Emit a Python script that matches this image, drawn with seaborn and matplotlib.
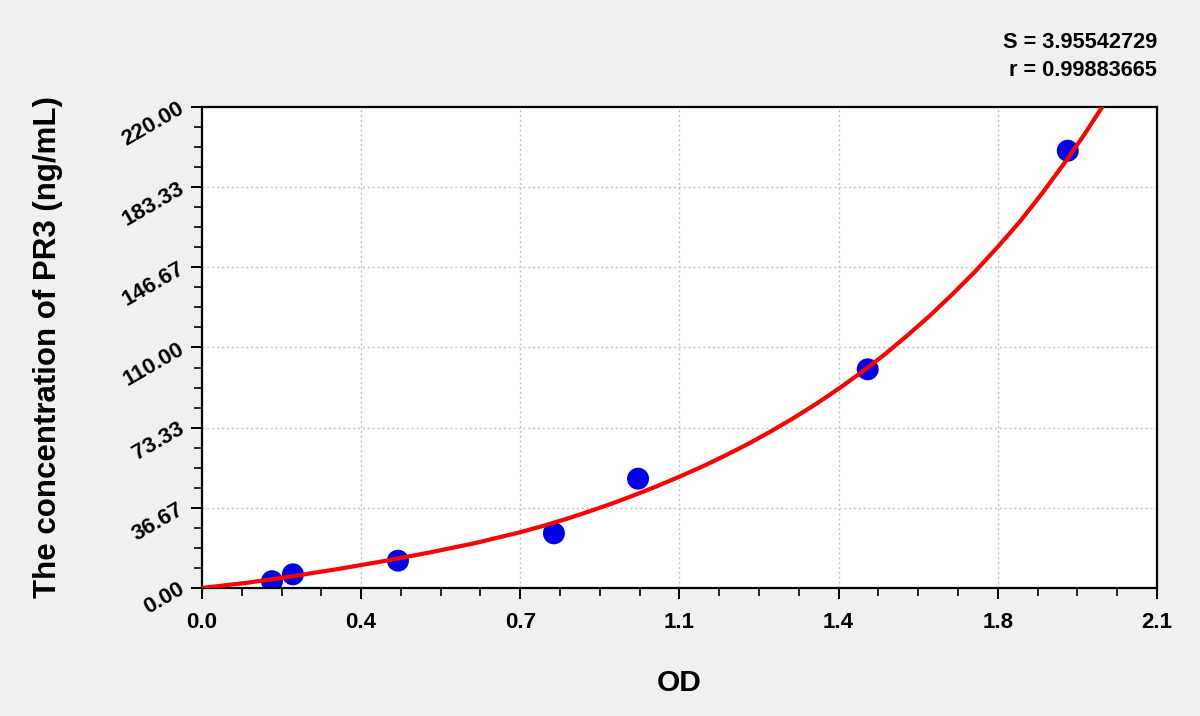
import matplotlib.pyplot as plt
import numpy as np
import pandas as pd
import seaborn as sns

# standard points (OD vs concentration)
od_points = [0.154, 0.200, 0.431, 0.774, 0.959, 1.464, 1.904]
conc_points = [3.12, 6.25, 12.5, 25.0, 50.0, 100.0, 200.0]

# fitted curve
curve_od = [0.0, 0.1, 0.2, 0.3, 0.4, 0.5, 0.6, 0.7, 0.75, 0.8, 0.85, 0.9,
            0.95, 1.0, 1.05, 1.1, 1.15, 1.2, 1.25, 1.3, 1.35, 1.4, 1.45,
            1.5, 1.55, 1.6, 1.65, 1.7, 1.75, 1.8, 1.85, 1.9, 1.94, 1.98]
curve_conc = [0.0, 2.4, 5.4, 8.7, 12.3, 16.2, 20.5, 25.5, 28.4, 31.5, 34.9,
              38.5, 42.4, 46.5, 50.9, 55.5, 60.5, 65.8, 71.5, 77.6, 84.1,
              91.1, 98.6, 106.6, 115.3, 124.4, 134.3, 144.7, 156.0, 167.9,
              181.2, 195.3, 207.3, 220.1]

x_tick_labels = ["0.0", "0.4", "0.7", "1.1", "1.4", "1.8", "2.1"]
y_tick_labels = ["0.00", "36.67", "73.33", "110.00", "146.67", "183.33", "220.00"]

stats_lines = ["S = 3.95542729", "r = 0.99883665"]

sns.set_theme(style="ticks")
plt.rcParams.update(
    {
        "font.family": ["Liberation Sans", "DejaVu Sans"],
        "font.weight": "bold",
        "text.color": "black",
        "axes.labelcolor": "black",
        "xtick.color": "black",
        "ytick.color": "black",
        "axes.edgecolor": "black",
        "axes.linewidth": 1.6,
        "xtick.major.size": 8,
        "ytick.major.size": 8,
        "xtick.minor.size": 6,
        "ytick.minor.size": 6,
        "xtick.major.width": 1.4,
        "ytick.major.width": 1.4,
        "xtick.minor.width": 1.2,
        "ytick.minor.width": 1.2,
    }
)

pts = pd.DataFrame({"od": od_points, "conc": conc_points})
curve = pd.DataFrame({"od": curve_od, "conc": curve_conc})

fig = plt.figure(figsize=(12, 7.16), dpi=100, facecolor="#f0f0f0")
ax = fig.add_axes([0.1683, 0.1788, 0.7958, 0.6718])
ax.set_facecolor("white")

sns.scatterplot(data=pts, x="od", y="conc", color="#0000e6", s=250,
                edgecolor="none", ax=ax, zorder=2)
sns.lineplot(data=curve, x="od", y="conc", color="#ff0000", linewidth=3,
             ax=ax, zorder=3)

ax.set_xlim(0, 2.1)
ax.set_ylim(0, 220)

xt = np.linspace(0, 2.1, len(x_tick_labels))
yt = np.linspace(0, 220, len(y_tick_labels))
ax.set_xticks(xt)
ax.set_xticklabels(x_tick_labels, fontsize=16, fontweight="bold")
ax.set_yticks(yt)
ax.set_yticklabels(y_tick_labels, fontsize=16, fontweight="bold",
                   rotation=30, ha="right", va="center", rotation_mode="anchor")
ax.set_xticks(np.linspace(0, 2.1, 25), minor=True)
ax.set_yticks(np.linspace(0, 220, 25), minor=True)
ax.tick_params(axis="both", which="both", direction="out",
               top=False, right=False)
ax.tick_params(axis="x", which="major", pad=9)
ax.tick_params(axis="y", which="major", pad=6)

for v in xt[1:-1]:
    ax.axvline(v, color="#c4c4c4", linestyle=(0, (1.5, 2)), linewidth=1, zorder=0)
for v in yt[1:-1]:
    ax.axhline(v, color="#c4c4c4", linestyle=(0, (1.5, 2)), linewidth=1, zorder=0)

for sp in ax.spines.values():
    sp.set_visible(True)
    sp.set_color("black")

ax.set_xlabel("OD", fontsize=21.5, fontweight="bold", labelpad=26)
ax.set_ylabel("The concentration of PR3 (ng/mL)", fontsize=22.5,
              fontweight="bold", labelpad=40)

fig.text(0.964, 0.9413, stats_lines[0], ha="right", va="center",
         fontsize=15.7, fontweight="bold")
fig.text(0.964, 0.9022, stats_lines[1], ha="right", va="center",
         fontsize=15.7, fontweight="bold")

fig.savefig("out.png", dpi=100, facecolor=fig.get_facecolor())
